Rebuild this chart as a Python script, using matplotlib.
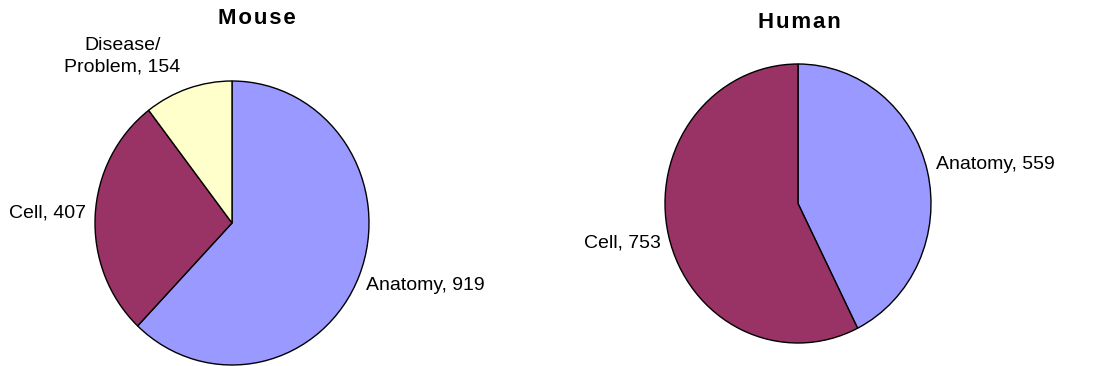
import matplotlib
matplotlib.use("Agg")
import matplotlib.pyplot as plt

# data
mouse_labels = ["Anatomy", "Cell", "Disease/\nProblem"]
mouse_values = [919, 407, 154]
human_labels = ["Anatomy", "Cell"]
human_values = [559, 753]
colors = ["#9999FF", "#993366", "#FFFFCC"]
titles = ["Mouse", "Human"]

W, H = 1096, 366
plt.rcParams['font.family'] = ['Liberation Sans', 'DejaVu Sans']

fig = plt.figure(figsize=(W / 100, H / 100), dpi=100)


def pie_axes(cx, cy, rx, ry):
    # pixel box of the pie -> figure fraction
    return fig.add_axes([(cx - rx) / W, (H - cy - ry) / H, 2 * rx / W, 2 * ry / H])


def draw_pie(ax, values):
    ax.pie(values, colors=colors[:len(values)], startangle=90, counterclock=False,
           wedgeprops=dict(edgecolor="black", linewidth=1.0))
    ax.set_aspect("auto")
    ax.set_xlim(-1, 1)
    ax.set_ylim(-1, 1)
    ax.axis("off")


def spaced(s):
    # bold titles in the original are a bit letter-spaced
    return "\u200a".join(s)


ax1 = pie_axes(232, 223, 137, 142)
draw_pie(ax1, mouse_values)
ax1.text(0.978, -0.437, f"{mouse_labels[0]}, {mouse_values[0]}", ha="left", va="center", fontsize=14, clip_on=False)
ax1.text(-1.066, 0.07, f"{mouse_labels[1]}, {mouse_values[1]}", ha="right", va="center", fontsize=14, clip_on=False)
ax1.text(-0.80, 1.175, f"{mouse_labels[2]}, {mouse_values[2]}", ha="center", va="center", fontsize=14,
         linespacing=1.4, clip_on=False)

ax2 = pie_axes(798, 203.5, 133, 139.5)
draw_pie(ax2, human_values)
ax2.text(1.04, 0.276, f"{human_labels[0]}, {human_values[0]}", ha="left", va="center", fontsize=14, clip_on=False)
ax2.text(-1.03, -0.283, f"{human_labels[1]}, {human_values[1]}", ha="right", va="center", fontsize=14, clip_on=False)

fig.text(257 / W, 1 - 19 / H, spaced(titles[0]), ha="center", va="center", fontsize=16, fontweight="bold")
fig.text(799 / W, 1 - 23 / H, spaced(titles[1]), ha="center", va="center", fontsize=16, fontweight="bold")

fig.savefig("out.png", dpi=100)
